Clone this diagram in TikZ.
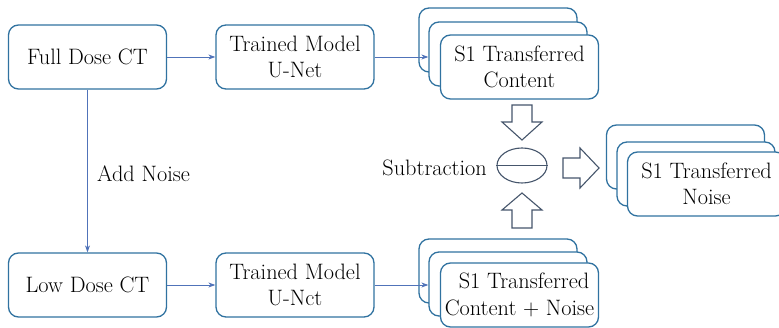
\documentclass[tikz,border=0pt]{standalone}
\usetikzlibrary{shapes.geometric,arrows.meta}
\definecolor{boxblue}{RGB}{48,114,160}
\definecolor{linkblue}{RGB}{80,115,185}
\definecolor{blockgrey}{RGB}{70,86,108}
\tikzset{
  txtfont/.style={font=\rmfamily\fontsize{22.3}{26.5}\selectfont, text=black},
  boxnode/.style={draw=boxblue, line width=1.3pt, rounded corners=10pt, fill=white,
    minimum width=158pt, minimum height=64pt, inner sep=0pt, align=center, txtfont},
  link/.style={draw=linkblue, line width=0.9pt, -{Stealth[length=7pt,width=5pt]}},
  blockarrow/.style={draw=blockgrey, line width=1.1pt, fill=white, line join=miter},
  plain/.style={txtfont, inner sep=0pt}
}
\begin{document}
\begin{tikzpicture}[x=1pt,y=-1pt]
\clip (0,0) rectangle (779,328);
\fill[white] (0,0) rectangle (779,328);

% left column
\node[boxnode] (full) at (87.5,57) {Full Dose CT};
\node[boxnode] (low) at (87.5,285) {Low Dose CT};
\node[boxnode] (tm1) at (295,57) {Trained Model\\U-Net};
\node[boxnode] (tm2) at (295,285) {Trained Model\\U-Nct};

% top stack
\node[boxnode] (tback) at (498,40) {};
\node[boxnode] (tmid) at (508,54) {};
\node[boxnode] (tfront) at (519.5,67) {S1 Transferred\\Content};

% bottom stack
\node[boxnode] (bback) at (498,271) {};
\node[boxnode] (bmid) at (508,284) {};
\node[boxnode] (bfront) at (519.5,295) {\hspace*{9pt}S1 Transferred\\Content + Noise};

% right stack
\node[boxnode] (rback) at (685.5,157) {};
\node[boxnode] (rmid) at (696,174) {};
\node[boxnode] (rfront) at (706.5,184) {S1 Transferred\\Noise};

% connectors
\draw[link] (full.east) -- (tm1.west);
\draw[link] (low.east) -- (tm2.west);
\draw[link] (tm1.east) -- (tm1.east -| tmid.west);
\draw[link] (tm2.east) -- (tm2.east -| bmid.west);
\draw[link] (full.south) -- (low.north);
\node[plain, anchor=base west] (addnoise) at (97,182) {Add Noise};

% subtraction
\node[draw=blockgrey, line width=1.1pt, ellipse, minimum width=50pt, minimum height=35pt, inner sep=0pt] (sub) at (522,165.5) {};
\draw[blockgrey, line width=1.1pt] (sub.west) -- (sub.east);
\node[plain, anchor=base east] (sublabel) at (487,176) {Subtraction};

% block arrows
\draw[blockarrow] (512,105) -- (532,105) -- (532,122) -- (542,122) -- (522,140) -- (502,122) -- (512,122) -- cycle;
\draw[blockarrow] (512,228) -- (532,228) -- (532,210) -- (542,210) -- (522,193) -- (502,210) -- (512,210) -- cycle;
\draw[blockarrow] (563,158) -- (580,158) -- (580,148) -- (599,168) -- (580,188) -- (580,178) -- (563,178) -- cycle;
\end{tikzpicture}
\end{document}
